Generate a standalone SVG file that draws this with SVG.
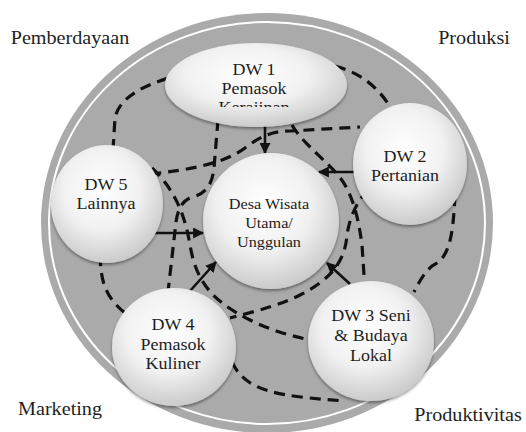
<svg xmlns="http://www.w3.org/2000/svg" width="526" height="432" viewBox="0 0 526 432">
  <defs>
    <radialGradient id="nodeFill" cx="45%" cy="38%" r="62%">
      <stop offset="0" stop-color="#ffffff"/>
      <stop offset="0.55" stop-color="#f1f1f1"/>
      <stop offset="1" stop-color="#cbcbcb"/>
    </radialGradient>
    <filter id="shadow" x="-20%" y="-20%" width="140%" height="140%">
      <feDropShadow dx="0" dy="2" stdDeviation="1.8" flood-color="#000" flood-opacity="0.4"/>
    </filter>
    <marker id="arrowHead" viewBox="0 0 10 10" refX="9" refY="5" markerWidth="11" markerHeight="11" markerUnits="userSpaceOnUse" orient="auto">
      <path d="M0,0 L10,5 L0,10 z" fill="#111"/>
    </marker>
    <clipPath id="dw1Clip">
      <rect x="150" y="40" width="210" height="67"/>
    </clipPath>
    <style>
      .lbl { font-family: "Liberation Serif", "Times New Roman", serif; fill: #1e1e1e; text-anchor: middle; }
      .corner { font-size: 18px; }
      .node-text { font-size: 16.5px; }
      .core-text { font-size: 15px; }
      .node { fill: url(#nodeFill); filter: url(#shadow); }
      .dash { fill: none; stroke: #111; stroke-width: 3.2; stroke-dasharray: 11 7; }
      .arrow { fill: none; stroke: #111; stroke-width: 2.6; marker-end: url(#arrowHead); }
    </style>
  </defs>

  <rect width="526" height="432" fill="#ffffff"/>

  <!-- outer disc with inner white ring -->
  <g id="frame">
    <ellipse cx="267" cy="223" rx="226" ry="210" fill="#aaaaaa"/>
    <ellipse cx="267" cy="223" rx="218" ry="201" fill="none" stroke="#ffffff" stroke-width="2"/>
  </g>

  <!-- corner labels -->
  <g id="labels">
    <text class="lbl corner" transform="translate(70 44) scale(1.12 1)">Pemberdayaan</text>
    <text class="lbl corner" transform="translate(474 44) scale(1.12 1)">Produksi</text>
    <text class="lbl corner" transform="translate(60 415) scale(1.12 1)">Marketing</text>
    <text class="lbl corner" transform="translate(468 421) scale(1.12 1)">Produktivitas</text>
  </g>

  <!-- dashed links between villages -->
  <g id="connectors">
    <path class="dash" d="M335,66 C357,72 377,84 392,110"/>
    <path class="dash" d="M455,195 C453,235 450,258 432,266 C425,272 420,280 414,292"/>
    <path class="dash" d="M232,362 C246,392 278,396 345,401"/>
    <path class="dash" d="M100,255 C101,280 104,296 125,313"/>
    <path class="dash" d="M113,150 L115,118 Q120,92 172,77"/>
    <path class="dash" d="M150,174 C190,170 225,163 245,148 C258,138 270,131 290,131 L360,127"/>
    <path class="dash" d="M152,168 C175,190 185,215 190,245 C196,280 210,300 250,320 C270,330 290,336 315,341"/>
    <path class="dash" d="M218,120 L214,168 C212,186 205,194 192,197 C183,200 178,208 176,222 L168,292"/>
    <path class="dash" d="M292,125 C300,140 320,155 338,175 C352,192 358,215 362,245 L365,290"/>
    <path class="dash" d="M368,190 C358,200 350,215 347,235 C345,262 330,280 300,295 C280,305 260,310 230,318"/>

    <!-- solid arrows into the main village -->
    <path class="arrow" d="M265,126 L265,153"/>
    <path class="arrow" d="M355,172 L319,172"/>
    <path class="arrow" d="M155,233 L203,233"/>
    <path class="arrow" d="M190,291 L216,262"/>
    <path class="arrow" d="M350,284 L327,263"/>
  </g>

  <g id="dw1">
    <ellipse class="node" cx="256" cy="85" rx="91" ry="42"/>
    <g clip-path="url(#dw1Clip)">
      <text class="lbl node-text" transform="translate(254 75) scale(1.09 1)">DW 1</text>
      <text class="lbl node-text" transform="translate(254 94) scale(1.09 1)">Pemasok</text>
      <text class="lbl node-text" transform="translate(254 113) scale(1.09 1)">Kerajinan</text>
    </g>
  </g>

  <g id="dw2">
    <ellipse class="node" cx="410" cy="164" rx="57" ry="61"/>
    <text class="lbl node-text" transform="translate(405 162) scale(1.09 1)">DW 2</text>
    <text class="lbl node-text" transform="translate(405 181) scale(1.09 1)">Pertanian</text>
  </g>

  <g id="dw5">
    <ellipse class="node" cx="107" cy="204" rx="56" ry="59"/>
    <text class="lbl node-text" transform="translate(106 190) scale(1.09 1)">DW 5</text>
    <text class="lbl node-text" transform="translate(106 209) scale(1.09 1)">Lainnya</text>
  </g>

  <g id="desa-utama">
    <ellipse class="node" cx="271" cy="221" rx="68" ry="68"/>
    <text class="lbl core-text" transform="translate(269 209) scale(1.08 1)">Desa Wisata</text>
    <text class="lbl core-text" transform="translate(269 228) scale(1.08 1)">Utama/</text>
    <text class="lbl core-text" transform="translate(269 247) scale(1.08 1)">Unggulan</text>
  </g>

  <g id="dw4">
    <ellipse class="node" cx="174" cy="347" rx="62" ry="59"/>
    <text class="lbl node-text" transform="translate(173 330) scale(1.09 1)">DW 4</text>
    <text class="lbl node-text" transform="translate(173 350) scale(1.09 1)">Pemasok</text>
    <text class="lbl node-text" transform="translate(173 369) scale(1.09 1)">Kuliner</text>
  </g>

  <g id="dw3">
    <ellipse class="node" cx="371" cy="341" rx="63" ry="60"/>
    <text class="lbl node-text" transform="translate(371 321) scale(1.09 1)">DW 3 Seni</text>
    <text class="lbl node-text" transform="translate(371 341) scale(1.09 1)">&amp; Budaya</text>
    <text class="lbl node-text" transform="translate(371 361) scale(1.09 1)">Lokal</text>
  </g>
</svg>
